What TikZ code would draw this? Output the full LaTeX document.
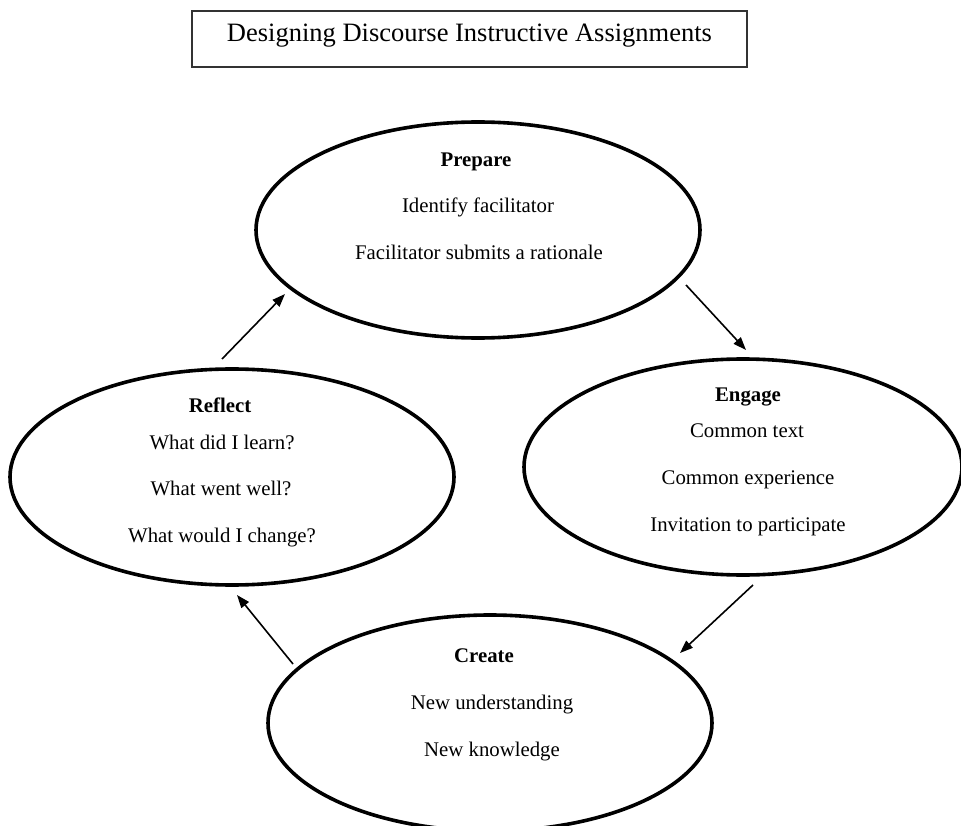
\documentclass[tikz,border=0pt]{standalone}
\usepackage{fontspec}
\setmainfont{Liberation Serif}
\usetikzlibrary{shapes.geometric,arrows.meta}
\begin{document}
\begin{tikzpicture}[x=1pt,y=-1pt,
  cycbox/.style={draw, ellipse, line width=3.6pt, inner sep=0pt, minimum width=444pt, minimum height=216pt},
  headtxt/.style={anchor=base, inner sep=0pt, font=\fontsize{20.8}{24}\selectfont\bfseries},
  bodytxt/.style={anchor=base, inner sep=0pt, font=\fontsize{20.8}{24}\selectfont},
  flow/.style={line width=1.6pt, -{Triangle[length=13pt,width=9.5pt]}}
]
\useasboundingbox (0,0) rectangle (961,826);
\clip (0,0) rectangle (961,826);

% title
\node[draw=black!80, line width=1.3pt, minimum width=555pt, minimum height=56pt, inner sep=0pt] (titlebox) at (469.5,39) {};
\node[anchor=base, inner sep=0pt, font=\fontsize{26.5}{30}\selectfont] (titletext) at (469.5,42) {Designing Discourse Instructive Assignments};

% ellipses
\node[cycbox] (prepare) at (478,230) {};
\node[cycbox] (reflect) at (232,477) {};
\node[cycbox, minimum width=438pt] (engage) at (743,467) {};
\node[cycbox] (create) at (490,723) {};

% Prepare text
\node[headtxt] (p0) at (476,167) {Prepare};
\node[bodytxt] (p1) at (478,213) {Identify facilitator};
\node[bodytxt] (p2) at (479,260) {Facilitator submits a rationale};

% Reflect text
\node[headtxt] (r0) at (220,412) {Reflect};
\node[bodytxt] (r1) at (222,449) {What did I learn?};
\node[bodytxt] (r2) at (221,495) {What went well?};
\node[bodytxt] (r3) at (222,542) {What would I change?};

% Engage text
\node[headtxt] (e0) at (748,401) {Engage};
\node[bodytxt] (e1) at (747,437) {Common text};
\node[bodytxt] (e2) at (748,484) {Common experience};
\node[bodytxt] (e3) at (748,531) {Invitation to participate};

% Create text
\node[headtxt] (c0) at (484,662) {Create};
\node[bodytxt] (c1) at (492,709) {New understanding};
\node[bodytxt] (c2) at (492,756) {New knowledge};

% arrow end points
\coordinate (a1s) at (222,359);
\coordinate (a1e) at (285,294);
\coordinate (a2s) at (686,285);
\coordinate (a2e) at (746,350);
\coordinate (a3s) at (753,585);
\coordinate (a3e) at (680,653);
\coordinate (a4s) at (293,664);
\coordinate (a4e) at (237,595);

\draw[flow] (a1s) -- (a1e);
\draw[flow] (a2s) -- (a2e);
\draw[flow] (a3s) -- (a3e);
\draw[flow] (a4s) -- (a4e);
\end{tikzpicture}
\end{document}
